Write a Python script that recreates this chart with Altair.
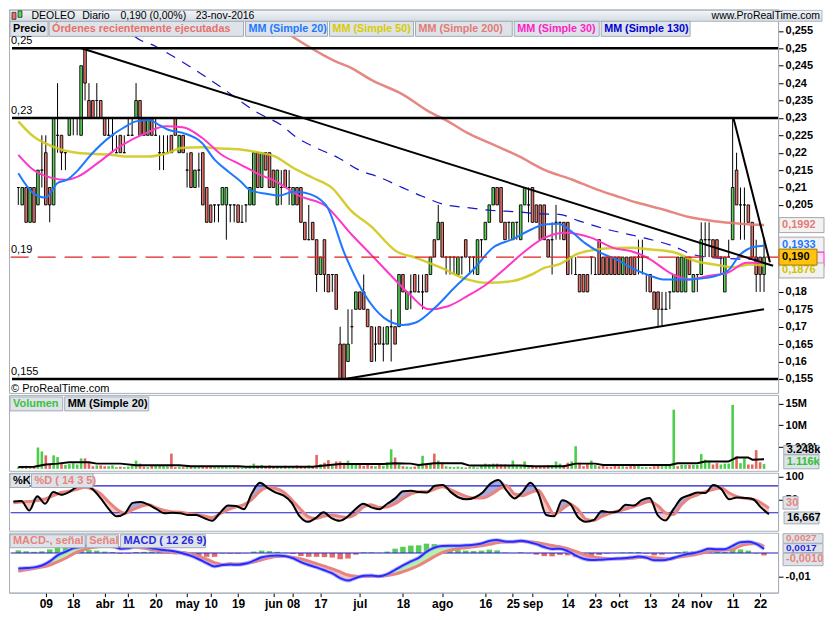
import altair as alt
import pandas as pd

FONT = "Liberation Sans"

# ---------------- data (trading-day index 0 = 29-feb-2016 ... 190 = 23-nov-2016) ----------------
# prices in thousandths of euro
OPEN = [210,205,210,200,210,205,215,220,210,205,
        225,225,220,225,230,230,225,250,235,235,
        235,235,230,225,225,220,225,220,225,225,
        230,235,230,225,230,225,220,220,220,225,
        230,220,225,215,220,210,215,220,210,205,
        205,205,205,205,205,205,205,200,205,205,
        205,220,210,220,220,215,205,210,215,210,
        205,210,210,200,195,200,195,185,195,185,
        185,185,165,165,160,170,175,180,180,175,
        170,165,170,165,165,170,170,170,185,175,
        180,185,180,180,185,185,195,195,200,190,
        190,190,185,190,195,190,190,185,195,195,
        200,205,210,210,200,200,195,200,195,205,
        205,210,205,205,205,195,195,200,200,200,
        200,190,185,185,185,185,190,185,195,190,
        190,190,190,190,185,190,190,190,190,190,
        185,185,180,180,175,175,180,180,190,180,
        180,190,180,185,185,195,195,195,195,190,
        180,190,195,215,205,205,205,200,190,190,185]
HIGH = [210,210,210,210,210,215,225,225,210,230,
        240,225,220,230,230,230,245,250,240,235,
        240,235,230,230,230,225,225,225,230,230,
        240,235,230,230,230,230,225,225,225,225,
        230,225,225,220,220,215,220,220,210,205,
        205,205,210,210,205,205,205,205,205,210,
        220,220,220,220,220,215,215,215,215,215,
        210,210,210,200,205,200,195,190,195,185,
        185,185,170,165,175,175,180,180,185,175,
        170,170,170,170,170,175,170,185,185,180,
        185,185,185,185,185,190,195,205,200,190,
        190,190,190,190,195,190,190,195,195,200,
        205,210,210,210,200,200,200,200,205,210,
        210,210,205,205,205,195,200,205,200,200,
        200,190,190,185,185,185,190,190,195,190,
        190,190,190,190,190,190,190,190,195,195,
        185,185,180,180,180,180,180,185,190,190,
        190,190,185,185,200,200,200,195,195,190,
        190,195,230,220,210,210,205,200,195,190,195]
LOW = [205,205,200,200,200,205,210,205,200,205,
       220,215,215,225,225,225,225,235,230,230,
       230,230,225,225,220,220,220,220,225,225,
       230,225,225,225,225,225,215,215,220,220,
       225,220,220,210,210,210,210,205,200,200,
       200,200,205,195,200,200,200,200,200,205,
       205,210,210,215,210,210,205,205,210,205,
       205,205,200,195,195,195,180,185,180,180,
       180,175,155,155,160,165,175,175,175,170,
       160,160,165,160,165,160,165,170,180,175,
       175,180,180,175,180,185,190,195,190,185,
       185,185,185,185,190,185,185,185,190,195,
       200,205,205,200,195,195,195,195,195,205,
       200,200,200,195,195,190,185,195,195,195,
       185,185,185,180,180,180,185,185,185,185,
       185,185,185,185,185,185,185,185,185,185,
       180,180,175,170,170,175,175,180,180,180,
       180,185,180,180,185,190,190,190,190,185,
       180,190,195,205,195,195,200,190,180,180,180]
CLOSE = [210,210,200,210,200,215,215,205,205,230,
         225,220,220,230,230,230,245,240,230,230,
         235,230,225,225,225,220,220,220,225,225,
         235,225,225,230,225,225,220,220,220,220,
         225,225,220,215,210,215,215,205,200,200,
         205,205,210,210,205,205,200,200,205,210,
         220,210,220,215,210,210,215,210,210,210,
         210,205,200,195,195,195,185,190,185,180,
         185,175,155,155,165,170,180,175,175,170,
         160,165,165,165,170,170,165,185,180,180,
         180,180,180,180,180,190,190,200,190,190,
         190,190,190,190,190,190,190,195,195,200,
         205,210,205,200,195,200,200,200,205,210,
         205,200,200,195,195,190,195,200,200,195,
         185,190,185,180,180,180,190,185,185,185,
         185,185,185,185,190,185,185,185,190,190,
         185,180,175,175,175,175,180,185,180,190,
         190,185,185,185,195,195,195,190,190,190,
         190,190,210,205,205,205,200,190,185,185,190]
# volume in millions of shares
VOLUME = [0.4,0.5,0.7,0.4,0.6,4.9,4.0,3.1,0.9,3.1,
          2.7,1.3,0.9,1.1,1.3,1.0,2.4,2.4,1.4,0.6,
          0.8,0.8,0.6,0.6,0.8,0.4,0.5,0.4,0.5,0.7,
          1.9,1.2,0.5,0.4,0.7,0.9,0.9,0.7,0.6,3.5,
          0.4,0.5,0.4,0.6,0.5,0.6,0.4,0.7,0.5,0.4,
          0.6,0.4,0.4,0.4,0.3,0.4,0.4,0.3,0.5,0.6,
          1.2,0.7,0.9,0.6,0.8,0.5,0.6,0.4,0.7,0.4,
          0.5,0.8,0.5,0.5,0.8,0.6,3.2,1.1,1.4,2.0,
          0.7,1.7,1.7,1.4,1.9,1.0,0.9,0.9,0.7,1.2,
          0.7,0.6,0.9,0.7,1.5,4.5,2.6,1.0,0.6,0.5,
          0.4,0.5,1.0,3.0,1.0,1.2,3.5,1.9,1.5,0.6,
          0.5,0.4,0.5,0.4,0.3,0.4,0.5,0.3,0.9,1.2,
          1.0,1.2,1.2,1.0,1.0,0.8,1.9,0.6,0.7,1.7,
          0.7,0.9,0.6,0.5,0.5,0.9,0.9,1.7,1.2,0.9,
          1.4,1.7,5.2,1.4,0.6,1.2,1.9,0.9,0.6,0.7,
          0.5,0.5,0.7,0.6,0.6,0.5,0.7,0.7,0.9,0.4,
          0.4,0.4,0.6,0.9,0.6,0.9,0.8,13.6,0.6,0.9,
          0.9,0.9,0.9,0.9,3.4,2.1,1.9,1.0,1.3,1.0,
          1.2,1.2,14.7,2.9,1.3,2.4,1.0,1.0,4.3,1.5,
          1.1]
VOL_MA_I = [0,4,7,10,13,18,20,26,30,41,44,56,58,75,78,82,93,96,100,102,
            106,113,115,128,131,139,142,147,149,166,168,173,175,181,183,186,187,190]
VOL_MA_V = [0.45,0.5,1.0,1.2,1.5,1.5,1.2,1.2,0.8,0.8,0.6,0.6,0.5,0.5,0.75,1.1,1.1,1.3,1.2,0.9,
            1.3,1.3,0.75,0.75,0.6,0.6,1.2,1.2,0.9,0.9,1.3,1.3,1.7,1.7,2.6,2.6,2.1,2.2]

# moving averages (index, price)
MA20_I = [0,3.8,7,10,12.4,15.3,18.5,23.5,26.7,30,33.3,35.7,38.2,41.9,46.8,50,53.4,56.6,59.1,63.2,
          66.5,70.1,73,78.3,83.2,88.2,93.1,98,101.3,106.2,111.1,116,120.9,125.8,130.8,134,137.7,140.2,144.3,148.4,
          152.5,156.2,161.1,164.3,170.9,175.8,180.7,184,187.3,190]
MA20_V = [.2141,.2084,.2071,.2113,.2122,.2151,.2194,.2247,.2271,.2290,.2294,.2281,.2266,.2257,.2228,.2180,.2147,.2118,.2092,.2082,
          .2077,.2088,.2085,.2051,.1908,.1793,.1726,.1705,.1712,.1755,.1812,.1865,.1927,.1951,.1980,.1994,.1996,.1980,.1941,.1912,
          .1893,.1869,.1846,.1836,.1836,.1841,.1860,.1908,.1929,.1933]
MA30_I = [0,3.8,8.7,12,15.3,20.2,25.9,32.6,37.6,41.9,46.8,51.7,56.6,61.5,65.2,71.8,78.3,84.9,89.8,94.7,
          99.7,104.6,109.5,114.4,119.3,124.2,129.1,134,139.4,145.9,152,156.2,161.1,166,170.9,175.8,180.7,185.6,190]
MA30_V = [.2194,.2151,.2127,.2122,.2132,.2170,.2218,.2257,.2276,.2273,.2243,.2195,.2166,.2137,.2120,.2075,.2047,.1965,.1908,.1850,
          .1793,.1750,.1759,.1788,.1822,.1869,.1917,.1955,.1970,.1956,.1925,.1917,.1893,.1855,.1836,.1846,.1855,.1884,.1884]
MA50_I = [0,3.8,8.7,15.3,23.5,27.6,33.3,37.4,41.9,46.8,51.7,56.6,61.5,65.2,70.1,75,79.9,84.9,89.8,96.3,
          101.3,107.8,114.4,119.3,125.8,130.8,134,137.7,142.6,147.5,152,156.2,161.1,167.6,172.5,177.4,182.3,186.5,190]
MA50_V = [.2290,.2247,.2218,.2199,.2194,.2189,.2189,.2197,.2214,.2216,.2212,.2209,.2200,.2190,.2156,.2128,.2099,.2032,.1989,.1917,
          .1898,.1869,.1836,.1826,.1831,.1850,.1869,.1879,.1910,.1922,.1926,.1927,.1922,.1912,.1889,.1879,.1871,.1879,.1876]
MA200_I = [64,69.4,77.5,80.7,84.9,89.8,98,104.5,109.5,114.4,120.9,127.5,134.2,141,147.5,152.5,157.8,164.3,170.9,177.4,184,190]
MA200_V = [.2577,.2537,.2482,.2463,.2443,.2410,.2367,.2319,.2290,.2257,.2224,.2190,.2150,.2123,.2094,.2075,.2056,.2037,.2015,.2003,.1996,.1992]
MA130_I = [27.1,29.1,34.9,41.5,51.3,61.1,66.9,71,75.9,81.6,86.5,92.3,98,102.9,108.6,114.4,120.9,127.5,133.2,137.7,
           142.6,149.2,153.7,160.2,166.8,171.7,177.4,190]
MA130_V = [.2577,.2540,.2506,.2463,.2391,.2314,.2280,.2243,.2214,.2185,.2152,.2128,.2099,.2075,.2051,.2042,.2034,.2030,.2024,.2023,
           .2005,.1982,.1970,.1953,.1932,.1908,.1898,.1893]

# oscillators, read every second session (index 0,2,...,190)
OSC_I = list(range(0, 191, 2))
STO_K = [45,46,25,57,40,66,60,66,78,82,
         72,52,28,12,18,42,44,38,28,19,
         20,19,15,15,8,2,20,36,35,28,
         64,87,75,65,58,42,12,0,8,21,
         8,2,11,28,40,32,28,40,52,68,
         69,66,65,80,82,66,54,50,54,65,
         85,93,70,52,66,87,64,15,12,48,
         40,10,0,4,24,21,23,38,36,48,
         53,15,3,28,52,59,65,64,82,73,
         50,54,53,50,32,16.7]
STO_D = [42,44,45,47,51,58,65,68,72,77,
         72,62,44,28,19,27,34,38,31,25,
         22,21,18,16,13,9,18,27,33,38,
         50,68,77,74,66,49,30,12,7,12,
         15,12,10,16,33,38,32,33,40,52,
         62,67,67,73,78,71,63,56,53,53,
         60,72,81,62,58,65,70,44,17,28,
         39,27,6,3,12,19,24,28,34,40,
         45,36,20,16,38,53,60,67,72,75,
         64,56,52,50,42,30]
MACD_V = [-65,-63,-60,-52,-35,-10,5,20,26,32,
          35,34,30,18,20,28,25,20,15,11,
          6,-2,-12,-26,-42,-56,-50,-48,-49,-44,
          -32,-18,-12,-10,-13,-22,-38,-50,-60,-72,
          -85,-105,-115,-104,-95,-94,-97,-88,-70,-52,
          -35,-20,5,22,29,30,30,32,34,40,
          50,54,48,47,51,46,37,25,17,18,
          8,-10,-24,-29,-28,-26,-24,-22,-19,-15,
          -20,-30,-30,-25,-15,-6,-1,8,18,16,
          16,30,45,47,38,17]          # x 1e-4
SIGNAL_V = [-76,-70,-65,-59,-50,-37,-22,-4,10,20,
            25,28,26,21,22,24,20,14,9,4,
            0,2,-5,-14,-26,-40,-48,-45,-46,-43,
            -38,-28,-20,-15,-14,-18,-25,-34,-44,-55,
            -66,-79,-92,-97,-98,-97,-98,-94,-88,-78,
            -66,-52,-34,-15,2,12,18,22,26,30,
            36,43,46,47,48,47,44,38,31,26,
            18,7,-6,-15,-20,-23,-24,-24,-22,-19,
            -17,-20,-23,-24,-18,-13,-8,-1,7,10,
            12,15,30,37,40,27]        # x 1e-4

# drawn lines
HLINES = [0.25, 0.23, 0.155]
TREND_ID = ["a", "a", "b", "b", "c", "c"]
TREND_I = [16.1, 192.3, 83.2, 190.0, 182.2, 191.5]
TREND_P = [0.25, 0.1875, 0.155, 0.175, 0.23, 0.1885]

TICK_IDX = [7,14,22,28,35,43,49,56,65,70,77,87,98,108,119,126,131,140,147,153,161,168,174,182,189]
TICK_LAB = ["09","18","abr","11","20","may","10","19","jun","08","17","jul","18","ago","16","25","sep",
            "14","23","oct","13","24","nov","11","22"]
# axis labels hidden behind the value boxes (0,185 ... 0,2) are left out
PRICE_TICKS = [0.155, 0.16, 0.165, 0.17, 0.175, 0.18, 0.205, 0.21, 0.215, 0.22, 0.225,
               0.23, 0.235, 0.24, 0.245, 0.25, 0.255]

# ---------------- styling ----------------
W = 770
SX = W / 787.0          # horizontal scale of the reference layout
GREEN, RED = "#5ad35a", "#e8736c"
VGREEN, VRED = "#4ccd4c", "#e4665f"
C_MA20, C_MA30, C_MA50, C_MA200, C_MA130 = "#1e78ff", "#ff36c8", "#d2c81c", "#e37b74", "#1414c8"
SALMON = "#e8837d"
BOXF, BOXS = "#dde3e9", "#a3acb5"


def rx(ref_x):
    """reference x -> chart x (plot part scaled, axis part shifted)"""
    return ref_x * SX if ref_x <= 787 else W + (ref_x - 787)


XS = alt.Scale(domain=[-1.1, 192.3], nice=False, zero=False)
PS = alt.Scale(domain=[0.15098, 0.26119], nice=False, zero=False)
VS = alt.Scale(domain=[-0.45, 17.0], nice=False, zero=False)
SS = alt.Scale(domain=[-20, 109], nice=False, zero=False)
MS = alt.Scale(domain=[-0.01654, 0.00846], nice=False, zero=False)


def raxis(**kw):
    base = dict(orient="right", title=None, grid=False, labelFont=FONT, labelFontSize=11,
                labelFontWeight="bold", labelColor="black", tickColor="black", tickSize=5,
                domainColor="#a7b0ba", labelPadding=2, labelOverlap=False, tickCount=60)
    base.update(kw)
    return alt.Axis(**base)


PA = raxis(values=PRICE_TICKS, labelExpr="replace(format(datum.value, '.3~f'), '.', ',')")
VA = raxis(values=[5, 10, 15],
           labelExpr="datum.value == 15 ? '15M' : (datum.value == 10 ? '10M' : '5.000k')")
SA = raxis(values=[50, 100])
MA_AX = raxis(values=[-0.01], labelExpr="'-0,01'")
XA = alt.Axis(orient="bottom", values=TICK_IDX, title=None, grid=False, tickCount=60,
              labelExpr="[" + ",".join(f"'{s}'" for s in TICK_LAB) + "][indexof(["
                        + ",".join(str(v) for v in TICK_IDX) + "], datum.value)]",
              labelFont=FONT, labelFontSize=12, labelFontWeight="bold", labelColor="black",
              tickColor="black", tickSize=4, domainColor="#a7b0ba", labelPadding=2,
              labelFlush=False, labelOverlap=False)

X = alt.X("i:Q", scale=XS, axis=None)
XB = alt.X("i:Q", scale=XS, axis=XA)

candles = pd.DataFrame({
    "i": list(range(len(CLOSE))),
    "o": [v / 1000 for v in OPEN], "h": [v / 1000 for v in HIGH],
    "l": [v / 1000 for v in LOW], "c": [v / 1000 for v in CLOSE],
    "vol": VOLUME,
})
osc = pd.DataFrame({"i": OSC_I, "k": STO_K, "d": STO_D,
                    "m": [v / 1e4 for v in MACD_V], "s": [v / 1e4 for v in SIGNAL_V]})


def one():
    return alt.Data(values=[{}])


def text_at(x, y, s, color="black", size=11, weight="bold", align="left"):
    return alt.Chart(one()).mark_text(align=align, baseline="middle", font=FONT, fontSize=size,
                                      fontWeight=weight, color=color).encode(
        x=alt.value(x), y=alt.value(y), text=alt.value(s))


def rect_at(x0, y0, x1, y1, fill=BOXF, stroke=BOXS, sw=1):
    return alt.Chart(one()).mark_rect(fill=fill, stroke=stroke, strokeWidth=sw).encode(
        x=alt.value(x0), x2=alt.value(x1), y=alt.value(y0), y2=alt.value(y1))


def boxed(x0, y0, x1, y1, s, color, fill=BOXF, size=11):
    return [rect_at(x0, y0, x1, y1, fill=fill), text_at(x0 + 3, (y0 + y1) / 2, s, color, size=size)]


def value_box(v, cx, w, h, fill, stroke="#a8a8a8", dy=0):
    r = h / w
    path = f"M-1,{-r:.4f}L1,{-r:.4f}L1,{r:.4f}L-1,{r:.4f}Z"
    return alt.Chart(one()).mark_point(shape=path, size=w * w, filled=True, fill=fill, stroke=stroke,
                                       strokeWidth=1, opacity=1, yOffset=dy).encode(
        x=alt.value(cx), y=alt.datum(v))


def value_text(v, x, s, color, dy=0, size=11):
    return alt.Chart(one()).mark_text(align="left", baseline="middle", font=FONT, fontSize=size,
                                      fontWeight="bold", color=color, dy=dy).encode(
        x=alt.value(x), y=alt.datum(v), text=alt.value(s))


def ma_line(idx, vals, color, width, dash=None, opacity=1.0):
    df = pd.DataFrame({"i": idx, "v": vals})
    mk = dict(color=color, strokeWidth=width, interpolate="monotone", opacity=opacity,
              strokeJoin="round")
    if dash:
        mk["strokeDash"] = dash
    return alt.Chart(df).mark_line(**mk).encode(x=X, y=alt.Y("v:Q", scale=PS, axis=PA))


def hrule(df, field, scale, axis, color, width, dash=None):
    mk = dict(color=color, strokeWidth=width)
    if dash:
        mk["strokeDash"] = dash
    return alt.Chart(df).mark_rule(**mk).encode(
        y=alt.Y(f"{field}:Q", scale=scale, axis=axis), x=alt.value(width + 0.5), x2=alt.value(W))


# ---------------- price panel ----------------
wicks = alt.Chart(candles).mark_rule(color="black", strokeWidth=1).encode(
    x=X, y=alt.Y("l:Q", scale=PS, axis=PA), y2="h:Q")
bodies = alt.Chart(candles).mark_bar(size=2.6, stroke="black", strokeWidth=0.9).encode(
    x=X, y=alt.Y("o:Q", scale=PS, axis=PA), y2="c:Q",
    fill=alt.condition("datum.c >= datum.o", alt.value(GREEN), alt.value(RED)))
hl = hrule(pd.DataFrame({"p": HLINES}), "p", PS, PA, "black", 2.5)
cur = hrule(pd.DataFrame({"p": [0.19]}), "p", PS, PA, "#e02020", 1.2, dash=[18, 9])
trend = alt.Chart(pd.DataFrame({"seg": TREND_ID, "i": TREND_I, "p": TREND_P})).mark_line(
    color="black", strokeWidth=2, strokeJoin="round").encode(
    x=X, y=alt.Y("p:Q", scale=PS, axis=PA), detail="seg:N")

header_grad = alt.Gradient(gradient="linear", x1=0, x2=0, y1=0, y2=1,
                           stops=[alt.GradientStop(color="#f3f6f9", offset=0),
                                  alt.GradientStop(color="#d3dbe3", offset=1)])
header = [
    alt.Chart(one()).mark_rect(fill=header_grad, stroke="#b0b8c0", strokeWidth=1).encode(
        x=alt.value(1), x2=alt.value(W + 44), y=alt.value(1), y2=alt.value(12)),
    rect_at(3, 3, 7, 10, fill=RED, stroke="black", sw=0.6),
    rect_at(9, 1.5, 13, 8, fill=GREEN, stroke="black", sw=0.6),
    text_at(rx(23), 6.5, "DEOLEO", size=10.5, weight="normal"),
    text_at(rx(75), 6.5, "Diario", size=10.5, weight="normal"),
    text_at(rx(114), 6.5, "0,190 (0,00%)", size=10.5, weight="normal"),
    text_at(rx(191), 6.5, "23-nov-2016", size=10.5, weight="normal"),
    text_at(W + 42, 6.5, "www.ProRealTime.com", size=10.5, weight="normal", align="right"),
]
legend = []
for x0, x1, s, col in [(1, 40, "Precio", "black"),
                       (41, 240, "Órdenes recientemente ejecutadas", "#e8706a"),
                       (242, 326, "MM (Simple 20)", C_MA20),
                       (328, 414, "MM (Simple 50)", "#d8cc00"),
                       (416, 515, "MM (Simple 200)", C_MA200),
                       (517, 604, "MM (Simple 30)", "#ff22c4"),
                       (606, 697, "MM (Simple 130)", "#0000d0")]:
    legend += boxed(rx(x0), 12, rx(x1), 27, s, col, size=10.8)

left_labels = []
for v, s in [(0.25, "0,25"), (0.23, "0,23"), (0.19, "0,19"), (0.155, "0,155")]:
    left_labels.append(alt.Chart(one()).mark_text(align="left", baseline="middle", font=FONT,
                                                  fontSize=11, color="black", dy=-7).encode(
        x=alt.value(2), y=alt.datum(v), text=alt.value(s)))
left_labels.append(text_at(2, 380, "© ProRealTime.com", size=11, weight="normal"))

BX = W + 23.5
axis_boxes = [
    value_box(0.1992, BX, 45, 15, "#f2f2f2"),
    value_text(0.1992, W + 4, "0,1992", C_MA200),
    value_box(0.1933, BX, 45, 15, "#f2f2f2", dy=-1),
    value_text(0.1933, W + 4, "0,1933", C_MA20, dy=-1),
    value_box(0.1884, BX, 45, 15, "#f8e0f2", stroke="#ff22c4", dy=-3),
    value_box(0.1876, BX, 45, 15, "#f2f2f2", dy=5),
    value_text(0.1876, W + 4, "0,1876", "#cfc400", dy=5),
    value_box(0.19, W + 20, 38, 16, "#ffc20e", stroke="#a07800"),
    value_text(0.19, W + 4, "0,190", "black"),
]

price = alt.layer(
    wicks, bodies,
    ma_line(MA200_I, MA200_V, C_MA200, 2.5, opacity=0.9),
    ma_line(MA50_I, MA50_V, C_MA50, 2.5, opacity=0.9),
    ma_line(MA130_I, MA130_V, C_MA130, 1.2, dash=[10, 8]),
    ma_line(MA30_I, MA30_V, C_MA30, 2),
    ma_line(MA20_I, MA20_V, C_MA20, 2),
    hl, cur, trend,
    *header, *legend, *left_labels, *axis_boxes,
).properties(width=W, height=384)

# ---------------- volume panel ----------------
vol_bars = alt.Chart(candles).mark_bar(size=2.6).encode(
    x=X, y=alt.Y("vol:Q", scale=VS, axis=VA),
    color=alt.condition("datum.c >= datum.o", alt.value(VGREEN), alt.value(VRED)))
vol_ma = alt.Chart(pd.DataFrame({"i": VOL_MA_I, "v": VOL_MA_V})).mark_line(
    color="black", strokeWidth=2, strokeJoin="round").encode(x=X, y=alt.Y("v:Q", scale=VS, axis=VA))
vol = alt.layer(
    vol_bars, vol_ma,
    *boxed(rx(1), 2, rx(55), 16, "Volumen", "#3cc03c"),
    *boxed(rx(57), 2, rx(143), 16, "MM (Simple 20)", "black"),
    *boxed(W + 5.7, 50.5, W + 41, 59.5, "3.248k", "black"),
    *boxed(W + 5.7, 60, W + 41, 74, "1.116k", "#30c030"),
).properties(width=W, height=76)

# ---------------- stochastic panel ----------------
sto_up = alt.Chart(osc).transform_calculate(hi="max(datum.k, datum.d)").mark_area(
    color="#a9a9dc", interpolate="monotone").encode(
    x=X, y=alt.Y("d:Q", scale=SS, axis=SA), y2="hi:Q")
sto_dn = alt.Chart(osc).transform_calculate(lo="min(datum.k, datum.d)").mark_area(
    color="#f6c6c2", interpolate="monotone").encode(
    x=X, y=alt.Y("lo:Q", scale=SS, axis=SA), y2="d:Q")
sto_lv = hrule(pd.DataFrame({"v": [20, 80]}), "v", SS, SA, "#1c1ccc", 1.2)
sto_d = alt.Chart(osc).mark_line(color=SALMON, strokeWidth=3, interpolate="monotone",
                                 strokeJoin="round").encode(x=X, y=alt.Y("d:Q", scale=SS, axis=SA))
sto_k = alt.Chart(osc).mark_line(color="black", strokeWidth=2, interpolate="monotone",
                                 strokeJoin="round").encode(x=X, y=alt.Y("k:Q", scale=SS, axis=SA))
sto = alt.layer(
    sto_up, sto_dn, sto_lv, sto_d, sto_k,
    *boxed(rx(1), 1, rx(21), 14.7, "%K", "black"),
    *boxed(rx(23), 1, rx(86), 14.7, "%D ( 14 3 5)", SALMON),
    *boxed(W + 5, 23.6, W + 20, 36.4, "30", SALMON),
    *boxed(W + 6, 39.3, W + 41, 51.1, "16,667", "black"),
).properties(width=W, height=58)

# ---------------- MACD panel ----------------
hist = alt.Chart(osc).transform_calculate(h="datum.m - datum.s").mark_bar(size=5.5).encode(
    x=XB, y=alt.Y("h:Q", scale=MS, axis=MA_AX),
    color=alt.condition("datum.h >= 0", alt.value("#55cc55"), alt.value("#e46a64")))
zero = hrule(pd.DataFrame({"v": [0]}), "v", MS, MA_AX, "#1c1ccc", 1.2)
m_up = alt.Chart(osc).transform_calculate(hi="max(datum.m, datum.s)").mark_area(
    color="#b6efae", interpolate="monotone").encode(
    x=XB, y=alt.Y("s:Q", scale=MS, axis=MA_AX), y2="hi:Q")
m_dn = alt.Chart(osc).transform_calculate(lo="min(datum.m, datum.s)").mark_area(
    color="#f6c2bf", interpolate="monotone").encode(
    x=XB, y=alt.Y("lo:Q", scale=MS, axis=MA_AX), y2="s:Q")
sig = alt.Chart(osc).mark_line(color=SALMON, strokeWidth=3, interpolate="monotone",
                               strokeJoin="round").encode(x=XB, y=alt.Y("s:Q", scale=MS, axis=MA_AX))
mglow = alt.Chart(osc).mark_line(color="#9a9aff", strokeWidth=4, opacity=0.6,
                                 interpolate="monotone", strokeJoin="round").encode(
    x=XB, y=alt.Y("m:Q", scale=MS, axis=MA_AX))
mline = alt.Chart(osc).mark_line(color="#2a2aff", strokeWidth=2, interpolate="monotone",
                                 strokeJoin="round").encode(x=XB, y=alt.Y("m:Q", scale=MS, axis=MA_AX))
macd = alt.layer(
    hist, zero, m_up, m_dn, sig, mglow, mline,
    *boxed(rx(1), 2, rx(78), 15, "MACD-, señal", SALMON),
    *boxed(rx(79), 2, rx(112), 15, "Señal", SALMON),
    *boxed(rx(114), 2, rx(201), 15, "MACD ( 12 26 9)", "#2828e0"),
    *boxed(W + 5, 1, W + 45, 10.5, "0,0027", SALMON, size=10),
    *boxed(W + 5, 11, W + 45, 20, "0,0017", "#2828e0", size=10),
    *boxed(W + 5, 20.5, W + 45, 33, "-0,0010", SALMON),
).properties(width=W, height=60)

chart = (alt.vconcat(price, vol, sto, macd, spacing=2, bounds="flush")
         .properties(padding=0, background="white")
         .configure_view(stroke="#a7b0ba", strokeWidth=1)
         .configure_axis(labelOverlap=False, labelBound=False, labelFlush=False, tickCount=60))

chart.save("out.html", embed_options={"renderer": "svg", "actions": False})
